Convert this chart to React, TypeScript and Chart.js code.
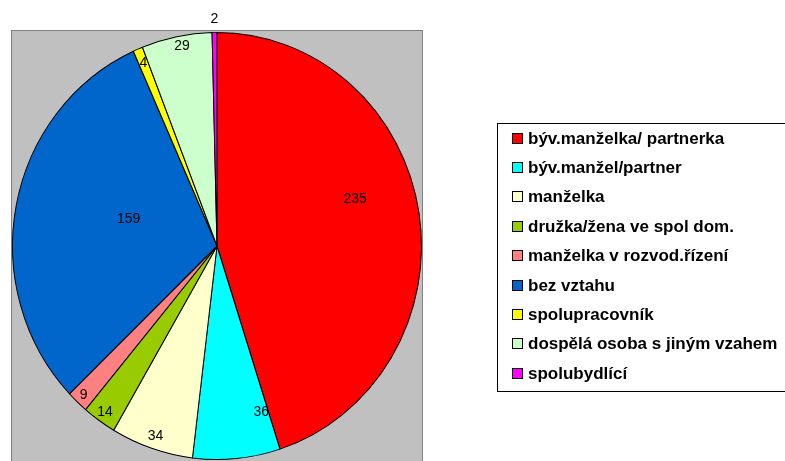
import React, { useEffect, useRef } from "react";
import { Chart, registerables } from "chart.js";

Chart.register(...registerables);

const categories = [
  "býv.manželka/ partnerka",
  "býv.manžel/partner",
  "manželka",
  "družka/žena ve spol dom.",
  "manželka v rozvod.řízení",
  "bez vztahu",
  "spolupracovník",
  "dospělá osoba s jiným vzahem",
  "spolubydlící",
];
const values = [235, 36, 34, 14, 9, 159, 4, 29, 2];
const sliceColors = [
  "#FF0000",
  "#00FFFF",
  "#FFFFCC",
  "#99CC00",
  "#FF8080",
  "#0066CC",
  "#FFFF00",
  "#CCFFCC",
  "#FF00FF",
];
// label placement (fraction of radius, angular shift in degrees) – styling only
const labelRadiusFrac = [0.71, 0.81, 0.94, 0.95, 0.955, 0.45, 0.93, 0.95, 1.065];
const labelAngleShift = [-9, -10, 0, 0, 0, 5, 0, 1, 0];

const FONT = '"Liberation Sans", Arial, sans-serif';
const Y_STRETCH = 1.044;

const backgroundPlugin = {
  id: "plotBackground",
  beforeDraw(chart: any) {
    const ctx = chart.ctx;
    ctx.save();
    ctx.fillStyle = "#FFFFFF";
    ctx.fillRect(0, 0, chart.width, chart.height);
    ctx.fillStyle = "#C0C0C0";
    ctx.fillRect(11, 30, 412, chart.height);
    ctx.strokeStyle = "#808080";
    ctx.lineWidth = 1;
    ctx.strokeRect(11.5, 30.5, 411, chart.height + 5);
    ctx.restore();
  },
};

const stretchPlugin = {
  id: "stretchPie",
  beforeDatasetsDraw(chart: any) {
    const meta = chart.getDatasetMeta(0);
    const el = meta.data[0];
    if (!el) return;
    const ctx = chart.ctx;
    ctx.save();
    ctx.translate(el.x, el.y);
    ctx.scale(1, Y_STRETCH);
    ctx.translate(-el.x, -el.y);
  },
  afterDatasetsDraw(chart: any) {
    chart.ctx.restore();
  },
};

const labelPlugin = {
  id: "sliceLabels",
  afterDraw(chart: any) {
    const ctx = chart.ctx;
    const meta = chart.getDatasetMeta(0);
    const data = chart.data.datasets[0].data as number[];
    ctx.save();
    ctx.font = `14px ${FONT}`;
    ctx.fillStyle = "#000";
    ctx.textAlign = "center";
    ctx.textBaseline = "middle";
    meta.data.forEach((el: any, i: number) => {
      const mid = (el.startAngle + el.endAngle) / 2 + (labelAngleShift[i] * Math.PI) / 180;
      const r = el.outerRadius * labelRadiusFrac[i];
      const x = el.x + Math.cos(mid) * r;
      const y = el.y + Math.sin(mid) * r * Y_STRETCH;
      ctx.fillText(String(data[i]), x, y);
    });
    ctx.restore();
  },
};

const legendPlugin = {
  id: "boxLegend",
  afterDraw(chart: any) {
    const ctx = chart.ctx;
    const labels = chart.data.labels as string[];
    const colors = chart.data.datasets[0].backgroundColor as string[];
    ctx.save();
    ctx.strokeStyle = "#000";
    ctx.lineWidth = 1;
    ctx.strokeRect(497.5, 123.5, 300, 268);
    ctx.font = `bold 17px ${FONT}`;
    ctx.textBaseline = "middle";
    ctx.textAlign = "left";
    labels.forEach((lab, i) => {
      const cy = 138 + i * 29.4;
      ctx.fillStyle = colors[i];
      ctx.fillRect(512, Math.round(cy - 5.5), 11, 11);
      ctx.strokeStyle = "#000";
      ctx.strokeRect(512.5, Math.round(cy - 5.5) + 0.5, 10, 10);
      ctx.fillStyle = "#000";
      ctx.fillText(lab, 528, cy + 1);
    });
    ctx.restore();
  },
};

export default function App() {
  const ref = useRef<HTMLCanvasElement | null>(null);
  useEffect(() => {
    if (!ref.current) return;
    const chart = new Chart(ref.current, {
      type: "pie",
      data: {
        labels: categories,
        datasets: [
          {
            data: values,
            backgroundColor: sliceColors,
            borderColor: "#000000",
            borderWidth: 1,
          },
        ],
      },
      options: {
        animation: false,
        responsive: true,
        maintainAspectRatio: false,
        layout: { padding: { left: 12, right: 363, top: 41, bottom: 10 } },
        plugins: {
          legend: { display: false },
          tooltip: { enabled: false },
        },
      },
      plugins: [backgroundPlugin, stretchPlugin, labelPlugin, legendPlugin],
    });
    return () => chart.destroy();
  }, []);
  return (
    <div style={{ position: "fixed", left: 0, top: 0, width: 785, height: 461 }}>
      <canvas ref={ref} />
    </div>
  );
}
